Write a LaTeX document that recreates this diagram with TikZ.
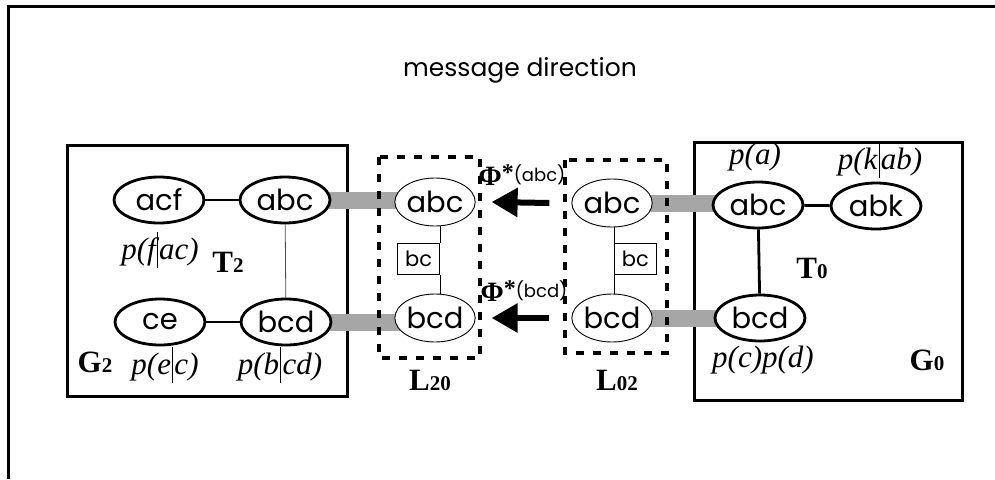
\documentclass[tikz,border=0pt]{standalone}
\usepackage{fontspec}
\setmainfont{Liberation Serif}
\setsansfont{Poppins}
\usetikzlibrary{arrows.meta,shapes.geometric,backgrounds}

\newcommand{\fsz}[1]{\fontsize{#1}{#1}\selectfont}
\newcommand{\cbar}{\hspace{0.04em}\rule[-0.27em]{1pt}{1.15em}\hspace{0.04em}}
\newcommand{\sub}[1]{{\fsz{21}#1}}

\tikzset{
	clq/.style={ellipse,draw,line width=2.8,fill=white,minimum width=90,minimum height=46,inner sep=0,font=\sffamily\fsz{29}},
	sepq/.style={ellipse,draw,line width=0.9,fill=white,minimum width=71,minimum height=48,inner sep=0,font=\sffamily\fsz{29}},
	sbox/.style={draw,line width=0.9,minimum width=42,minimum height=31,inner sep=0,font=\sffamily\fsz{21}},
	pot/.style={font=\itshape\fsz{31}},
	nm/.style={font=\bfseries\fsz{31}},
	link/.style={line width=2.8},
	thinlink/.style={line width=0.8},
	bar/.style={line width=17,draw=black!35},
	msg/.style={line width=6,-{Triangle[length=26,width=28]}},
	lbox/.style={line width=3.2,dash pattern=on 8 off 9},
	gbox/.style={line width=3},
}

\begin{document}
\begin{tikzpicture}[x=1pt,y=-1pt]
\useasboundingbox (0,0) rectangle (995,479);
%frame
\draw[line width=3] (995,6) -- (8,6) -- (8,479);
\node[font=\sffamily\fsz{25}] (title) at (520,70) {message direction};

%cliques G2
\node[clq] (acf) at (159,200) {acf};
\node[clq] (abcL) at (285,200) {abc};
\node[clq] (ce) at (160,322) {ce};
\node[clq] (bcdL) at (286,322) {bcd};
%cliques G0
\node[clq] (abcR) at (758,205) {abc};
\node[clq] (abk) at (876,206) {abk};
\node[clq] (bcdR) at (760,318) {bcd};
%L20, L02
\node[sepq] (abc20) at (435,202) {abc};
\node[sepq] (bcd20) at (435,318) {bcd};
\node[sepq] (abc02) at (612,203) {abc};
\node[sepq] (bcd02) at (612,318) {bcd};

\begin{scope}[on background layer]
%G2, G0
\draw[gbox] (67,145) rectangle (347,396);
\draw[gbox] (694,142) rectangle (962,400);
%bars
\draw[bar] (abcL.center) -- (abcL.center -| abc20.center);
\draw[bar] (bcdL.center) -- (bcdL.center -| bcd20.center);
\draw[bar] (abc02.center) -- (abc02.center -| abcR.center);
\draw[bar] (bcd02.center) -- (bcd02.center -| bcdR.center);
%links
\draw[link] (acf) -- (abcL);
\draw[link] (ce) -- (bcdL);
\draw[thinlink,black!70] (abcL) -- (bcdL);
\draw[link] (abcR) -- (abk);
\draw[link] (abcR) -- (bcdR);
\end{scope}

%separators
\node[sbox,anchor=east] (bc20) at (440,259) {bc};
\node[sbox,anchor=west] (bc02) at (614,259) {bc};
\draw[thinlink] (abc20.south -| bc20.east) -- (bc20.north east);
\draw[thinlink] (bc20.south east) -- (bcd20.north -| bc20.east);
\draw[thinlink] (abc02.south -| bc02.west) -- (bc02.north west);
\draw[thinlink] (bc02.south west) -- (bcd02.north -| bc02.west);

%dashed boxes
\draw[lbox] (379,157) rectangle (480,358);
\draw[lbox] (565,160) rectangle (667,353);

%messages
\draw[msg] ([xshift=-22]abc02.west) -- ([xshift=16]abc20.east);
\draw[msg] ([xshift=-22]bcd02.west) -- ([xshift=16]bcd20.east);
\node[inner sep=0] (phiA) at (522,175) {\bfseries\fsz{28}Φ\raisebox{5pt}{\fsz{24}*}\raisebox{4pt}{\mdseries\sffamily\fsz{18}(abc)}};
\node[inner sep=0] (phiB) at (524,291) {\bfseries\fsz{28}Φ\raisebox{5pt}{\fsz{24}*}\raisebox{4pt}{\mdseries\sffamily\fsz{18}(bcd)}};

%labels
\node[pot] (pfac) at (160,250) {p(f\cbar ac)};
\node[pot] (pec) at (165,365) {p(e\cbar c)};
\node[pot] (pbcd) at (280,365) {p(b\cbar cd)};
\node[pot] (pa) at (755,157) {p(a)};
\node[pot] (pkab) at (880,160) {p(k\cbar ab)};
\node[pot] (pcpd) at (763,360) {p(c)p(d)};

\node[nm] (T2) at (228,262) {T\sub{2}};
\node[nm] (G2) at (95,362) {G\sub{2}};
\node[nm] (T0) at (812,268) {T\sub{0}};
\node[nm] (G0) at (927,360) {G\sub{0}};
\node[nm] (L20) at (430,380) {L\sub{20}};
\node[nm] (L02) at (617,380) {L\sub{02}};
\end{tikzpicture}
\end{document}
